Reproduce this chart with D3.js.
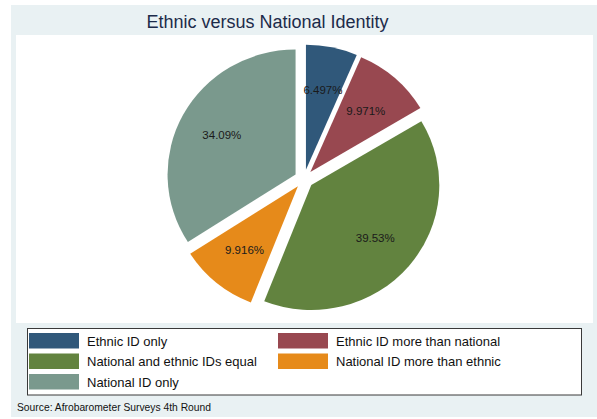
<!DOCTYPE html>
<html>
<head>
<meta charset="utf-8">
<script src="https://cdn.jsdelivr.net/npm/d3@7"></script>
<style>
  html, body { margin: 0; padding: 0; background: #ffffff; }
  svg { display: block; font-family: "Liberation Sans", Arial, sans-serif; }
</style>
</head>
<body>
<svg id="chart" width="597" height="419"></svg>
<script>
// Survey responses: share of respondents (%) by identity category
const categories = [
  "Ethnic ID only",
  "Ethnic ID more than national",
  "National and ethnic IDs equal",
  "National ID more than ethnic",
  "National ID only"
];
const values = [6.497, 9.971, 39.53, 9.916, 34.09];
const colors = ["#30587a", "#984850", "#62833f", "#e68a1a", "#7a998d"];
const titleText = "Ethnic versus National Identity";
const noteText = "Source: Afrobarometer Surveys 4th Round";

const data = categories.map((c, i) => ({ category: c, value: values[i], color: colors[i] }));

const svg = d3.select("#chart");

// Graph region and plot region backgrounds
svg.append("rect").attr("x", 11).attr("y", 5).attr("width", 586).attr("height", 412).attr("fill", "#e9f1f3");
svg.append("rect").attr("x", 16).attr("y", 35).attr("width", 577).attr("height", 288).attr("fill", "#ffffff");

// Title
svg.append("text")
  .attr("x", 267.5).attr("y", 27.5)
  .attr("text-anchor", "middle")
  .attr("font-size", 18)
  .attr("fill", "#1c2b4a")
  .text(titleText);

// Pie geometry
const cx = 304, cy = 179, r = 128, yScale = 125 / 128, explode = 9.6, labelR = 84;

const pie = d3.pie().value(d => d.value).sort(null).startAngle(0).endAngle(2 * Math.PI);
const arcs = pie(data);
const arc = d3.arc().innerRadius(0).outerRadius(r);

const pieG = svg.append("g").attr("transform", `translate(${cx},${cy}) scale(1,${yScale})`);

pieG.selectAll("path")
  .data(arcs)
  .join("path")
  .attr("d", arc)
  .attr("fill", d => d.data.color)
  .attr("transform", d => {
    const mid = (d.startAngle + d.endAngle) / 2;
    return `translate(${explode * Math.sin(mid)},${-explode * Math.cos(mid)})`;
  });

// Slice labels
const fmt = d3.format(".4r");
svg.append("g").selectAll("text")
  .data(arcs)
  .join("text")
  .attr("x", d => {
    const mid = (d.startAngle + d.endAngle) / 2;
    return cx + (explode + labelR) * Math.sin(mid);
  })
  .attr("y", d => {
    const mid = (d.startAngle + d.endAngle) / 2;
    return cy - (explode + labelR) * Math.cos(mid) * yScale;
  })
  .attr("dy", "0.36em")
  .attr("text-anchor", "middle")
  .attr("font-size", 11.5)
  .attr("fill", "#1a1a1a")
  .text(d => fmt(d.data.value) + "%");

// Legend
const legend = svg.append("g");
legend.append("rect")
  .attr("x", 27.5).attr("y", 328.5).attr("width", 554).attr("height", 66.5)
  .attr("fill", "#ffffff").attr("stroke", "#3a3a3a").attr("stroke-width", 1);

const colX = [29, 278];
const rowY = [333, 353.5, 374];
const items = legend.selectAll("g.item")
  .data(data)
  .join("g")
  .attr("class", "item")
  .attr("transform", (d, i) => `translate(${colX[i % 2]},${rowY[Math.floor(i / 2)]})`);

items.append("rect")
  .attr("width", 50).attr("height", 15.5)
  .attr("fill", d => d.color);

items.append("text")
  .attr("x", 58).attr("y", 12.7)
  .attr("font-size", 13)
  .attr("fill", "#111111")
  .text(d => d.category);

// Note
svg.append("text")
  .attr("x", 17).attr("y", 410.5)
  .attr("font-size", 10.3)
  .attr("fill", "#111111")
  .text(noteText);
</script>
</body>
</html>
